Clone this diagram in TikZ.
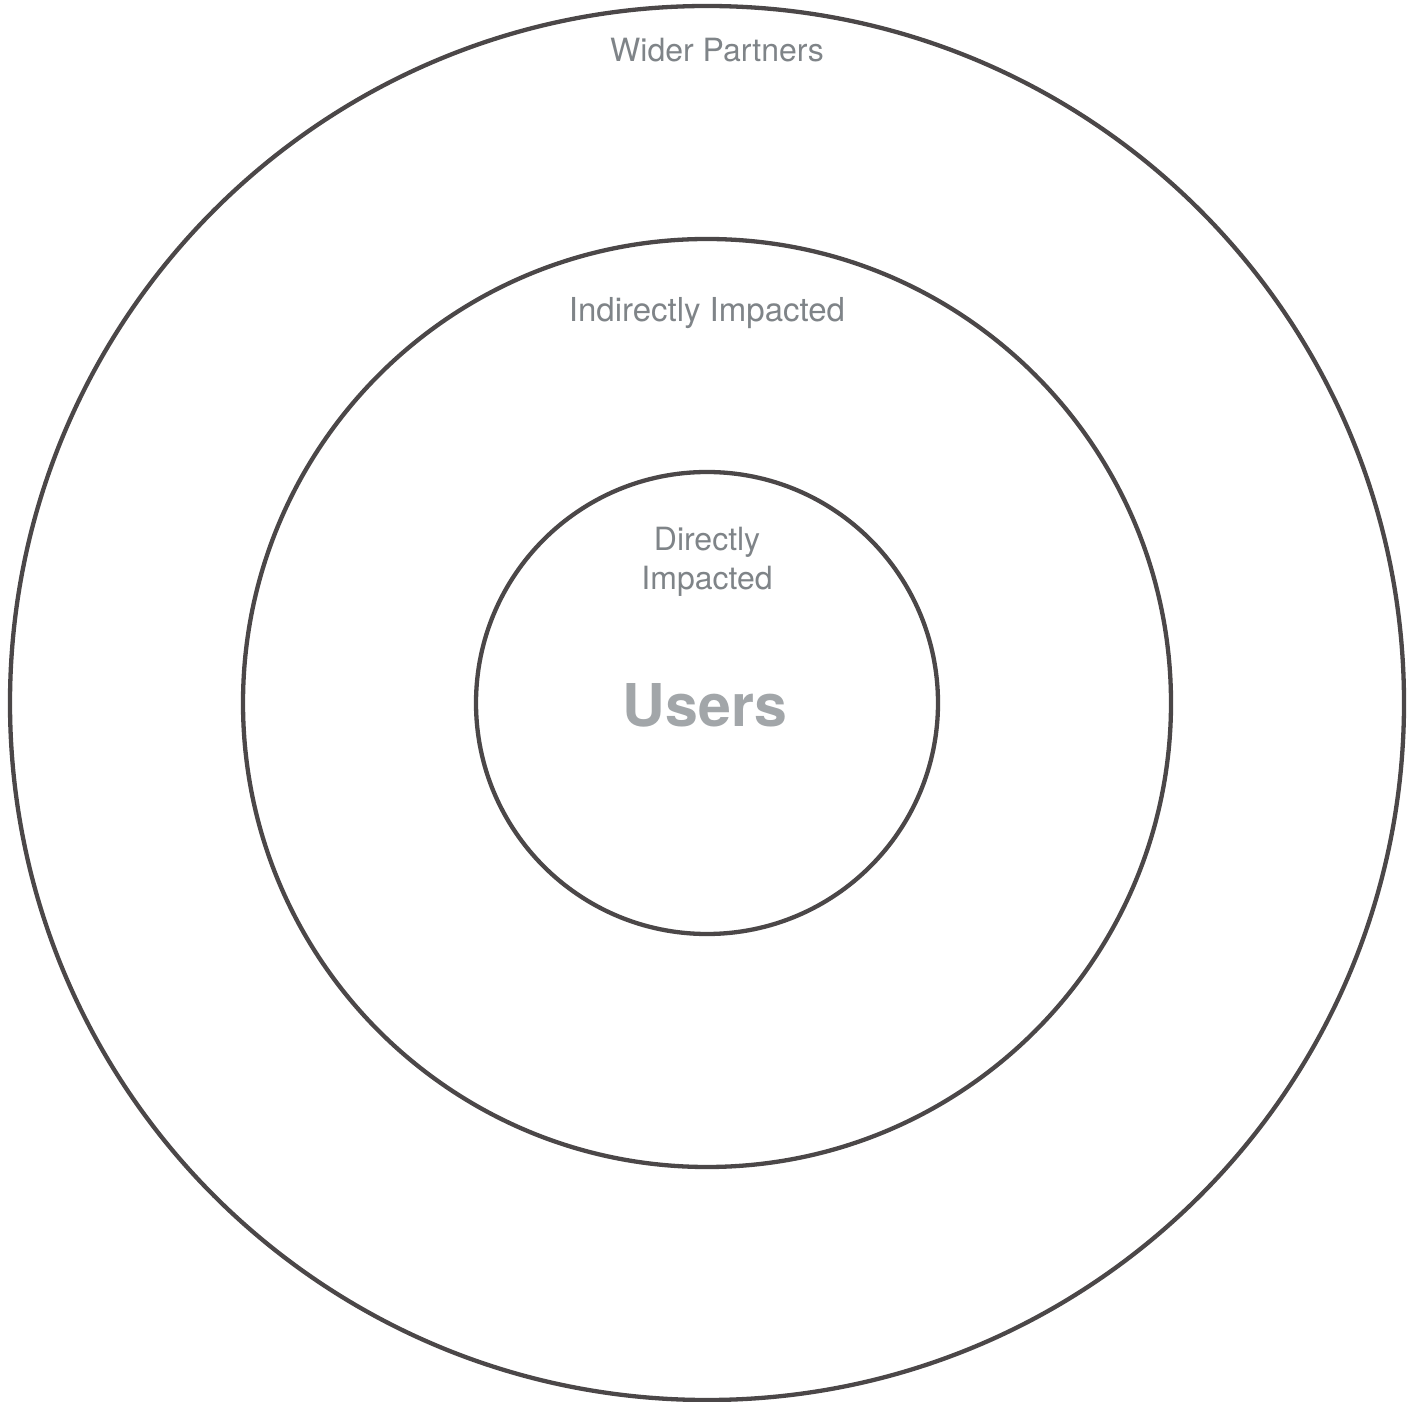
\documentclass[tikz,border=0pt]{standalone}
\usepackage{fontspec}
\setmainfont{TeX Gyre Heros}
\usetikzlibrary{positioning,calc}
\definecolor{ringgray}{HTML}{4B4748}
\definecolor{lblgray}{HTML}{7F8488}
\definecolor{usergray}{HTML}{A2A6A9}
\tikzset{
  ring/.style={circle,draw=ringgray,line width=4.3pt,inner sep=0pt},
  lbl/.style={text=lblgray,font=\fontsize{32}{39}\selectfont,align=center,inner sep=0pt,anchor=base},
  core/.style={text=usergray,font=\fontsize{59}{62}\selectfont\bfseries,inner sep=0pt,anchor=base},
}
\begin{document}
\begin{tikzpicture}[x=1pt,y=1pt]
  \useasboundingbox (0,0) rectangle (1415,1401);
  % three nested rings around one centre
  \coordinate (c) at (707,698);
  \node[ring,minimum size=1394pt] (outer) at (c) {};
  \node[ring,minimum size=928pt] (middle) at (c) {};
  \node[ring,minimum size=462pt] (inner) at (c) {};
  % ring labels
  \node[lbl] (wider) at ($(outer.north)+(10,-58)$) {Wider Partners};
  \node[lbl] (indirect) at ($(middle.north)+(0,-85)$) {\fontsize{33}{39}\selectfont Indirectly Impacted};
  \node[lbl] (direct) at ($(inner.north)+(0,-81)$) {Directly};
  \node[lbl] (direct2) at ($(direct.base)+(0,-39)$) {Impacted};
  \node[core] (users) at ($(c)+(-2,-24)$) {Users};
\end{tikzpicture}
\end{document}
